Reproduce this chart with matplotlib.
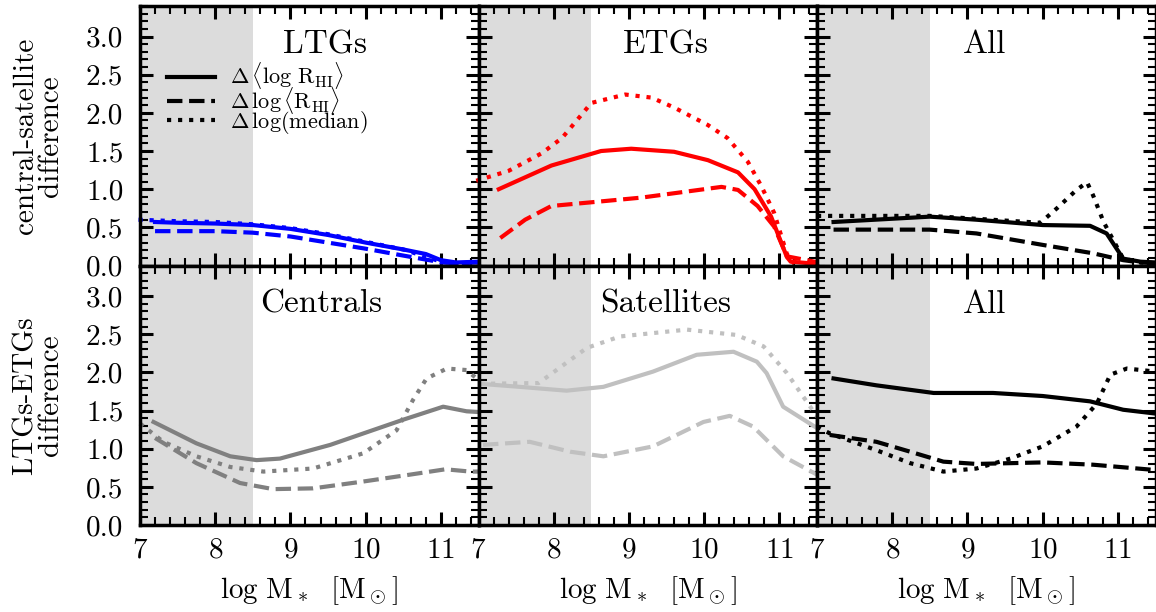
import numpy as np
import matplotlib
matplotlib.use("Agg")
import matplotlib.pyplot as plt
from matplotlib.ticker import MultipleLocator, FormatStrFormatter
from matplotlib.lines import Line2D

plt.rcParams["font.family"] = "serif"
plt.rcParams["font.serif"] = ["cmr10", "DejaVu Serif"]
plt.rcParams["mathtext.fontset"] = "cm"
plt.rcParams["axes.formatter.use_mathtext"] = True

# ---- top row: central - satellite difference ----
ltg_x_solid = [7.2, 7.5, 8.0, 8.5, 9.0, 9.5, 10.0, 10.5, 10.8, 11.0, 11.2, 11.52]
ltg_solid = [0.57, 0.56, 0.55, 0.53, 0.48, 0.40, 0.30, 0.21, 0.15, 0.07, 0.04, 0.05]
ltg_x_dash = [7.2, 7.5, 8.0, 8.5, 9.0, 9.5, 10.0, 10.5, 10.9, 11.0, 11.2, 11.52]
ltg_dash = [0.45, 0.45, 0.45, 0.43, 0.38, 0.30, 0.22, 0.13, 0.06, 0.04, 0.03, 0.04]
ltg_x_dot = [6.98, 7.5, 8.0, 8.5, 9.0, 9.5, 10.0, 10.5, 11.0, 11.2, 11.52]
ltg_dot = [0.60, 0.58, 0.57, 0.54, 0.49, 0.41, 0.31, 0.21, 0.05, 0.03, 0.04]

etg_x_solid = [7.27, 7.97, 8.63, 9.03, 9.6, 10.05, 10.45, 10.67, 10.89, 11.1, 11.15, 11.52]
etg_solid = [1.00, 1.31, 1.50, 1.53, 1.49, 1.38, 1.22, 1.00, 0.64, 0.11, 0.05, 0.02]
etg_x_dash = [7.29, 7.62, 7.97, 8.63, 9.17, 9.7, 10.23, 10.45, 10.71, 10.93, 11.1, 11.52]
etg_dash = [0.36, 0.60, 0.78, 0.84, 0.89, 0.96, 1.03, 0.99, 0.78, 0.51, 0.12, 0.04]
etg_x_dot = [6.97, 7.4, 7.84, 8.11, 8.28, 8.5, 8.95, 9.3, 9.6, 10.05, 10.31, 10.58, 10.76, 10.93, 11.1, 11.2]
etg_dot = [1.11, 1.24, 1.47, 1.67, 1.87, 2.13, 2.24, 2.20, 2.07, 1.84, 1.67, 1.36, 1.04, 0.69, 0.15, 0.02]

all_top_x_solid = [7.22, 8.5, 9.12, 10.0, 10.63, 10.85, 11.07, 11.3, 11.5]
all_top_solid = [0.57, 0.64, 0.60, 0.53, 0.52, 0.42, 0.09, 0.05, 0.04]
all_top_x_dash = [7.22, 8.5, 9.12, 10.0, 10.67, 11.07, 11.3, 11.5]
all_top_dash = [0.47, 0.47, 0.42, 0.27, 0.16, 0.07, 0.04, 0.03]
all_top_x_dot = [7.0, 8.5, 9.97, 10.19, 10.45, 10.59, 10.67, 10.81, 11.07, 11.3, 11.5]
all_top_dot = [0.65, 0.65, 0.56, 0.75, 0.99, 1.09, 0.92, 0.57, 0.09, 0.04, 0.03]

# ---- bottom row: LTGs - ETGs difference ----
cen_x_solid = [7.18, 7.75, 8.2, 8.55, 8.86, 9.53, 9.97, 10.5, 11.03, 11.34, 11.5]
cen_solid = [1.35, 1.07, 0.90, 0.85, 0.87, 1.05, 1.20, 1.38, 1.55, 1.49, 1.48]
cen_x_dash = [7.2, 7.75, 8.33, 8.77, 9.3, 9.97, 10.59, 11.06, 11.39, 11.5]
cen_dash = [1.14, 0.81, 0.55, 0.47, 0.48, 0.57, 0.66, 0.73, 0.70, 0.70]
cen_x_dot = [7.0, 7.31, 7.75, 8.2, 8.64, 9.3, 9.97, 10.41, 10.63, 10.81, 11.08, 11.34, 11.55]
cen_dot = [1.33, 1.09, 0.90, 0.76, 0.70, 0.74, 0.94, 1.24, 1.64, 1.92, 2.05, 2.03, 1.86]

sat_x_solid = [7.02, 7.55, 8.17, 8.66, 9.32, 9.9, 10.39, 10.7, 10.83, 11.05, 11.5]
sat_solid = [1.85, 1.81, 1.76, 1.81, 2.01, 2.23, 2.27, 2.14, 1.99, 1.55, 1.27]
sat_x_dash = [7.06, 7.68, 8.22, 8.66, 9.32, 9.99, 10.34, 10.65, 11.05, 11.5]
sat_dash = [1.05, 1.09, 0.96, 0.90, 1.03, 1.35, 1.43, 1.29, 0.90, 0.66]
sat_x_dot = [7.02, 7.8, 8.44, 8.88, 9.77, 10.43, 10.79, 11.1, 11.41, 11.5]
sat_dot = [1.85, 1.86, 2.32, 2.47, 2.56, 2.49, 2.34, 1.99, 1.55, 1.42]

all_bot_x_solid = [7.22, 7.79, 8.55, 9.34, 10.0, 10.63, 11.07, 11.5]
all_bot_solid = [1.92, 1.83, 1.73, 1.73, 1.69, 1.62, 1.51, 1.46]
all_bot_x_dash = [7.17, 7.79, 8.24, 8.68, 9.12, 10.0, 10.67, 11.5]
all_bot_dash = [1.18, 1.09, 0.96, 0.83, 0.80, 0.82, 0.79, 0.72]
all_bot_x_dot = [7.0, 7.17, 7.79, 8.24, 8.68, 9.12, 9.57, 10.0, 10.45, 10.72, 10.9, 11.12, 11.5]
all_bot_dot = [1.29, 1.20, 0.98, 0.81, 0.70, 0.74, 0.87, 1.03, 1.29, 1.59, 1.97, 2.05, 2.01]

panel_titles = ["LTGs", "ETGs", "All", "Centrals", "Satellites", "All"]
title_x = [0.423, 0.428, 0.432, 0.355, 0.359, 0.432]
row_labels = ["central-satellite\ndifference", "LTGs-ETGs\ndifference"]
legend_labels = [r"$\Delta\,\langle\log\,\mathrm{R}_{\mathrm{HI}}\rangle$",
                 r"$\Delta\,\log\langle\mathrm{R}_{\mathrm{HI}}\rangle$",
                 r"$\Delta\,\log(\mathrm{median})$"]

panels = [
    ("#0000ff", (ltg_x_solid, ltg_solid), (ltg_x_dash, ltg_dash), (ltg_x_dot, ltg_dot)),
    ("#ff0000", (etg_x_solid, etg_solid), (etg_x_dash, etg_dash), (etg_x_dot, etg_dot)),
    ("#000000", (all_top_x_solid, all_top_solid), (all_top_x_dash, all_top_dash), (all_top_x_dot, all_top_dot)),
    ("#808080", (cen_x_solid, cen_solid), (cen_x_dash, cen_dash), (cen_x_dot, cen_dot)),
    ("#c0c0c0", (sat_x_solid, sat_solid), (sat_x_dash, sat_dash), (sat_x_dot, sat_dot)),
    ("#000000", (all_bot_x_solid, all_bot_solid), (all_bot_x_dash, all_bot_dash), (all_bot_x_dot, all_bot_dot)),
]

W, H = 1156, 612
fig = plt.figure(figsize=(W / 100, H / 100), dpi=100)

left0, pw = 140, 338.5
top0, ph = 6, 259.5

axes = []
for i in range(6):
    r, c = divmod(i, 3)
    x0 = (left0 + c * pw) / W
    y0 = 1 - (top0 + (r + 1) * ph) / H
    ax = fig.add_axes([x0, y0, pw / W, ph / H])
    axes.append(ax)

for i, (ax, (col, s, d, o)) in enumerate(zip(axes, panels)):
    r, c = divmod(i, 3)
    ax.axvspan(6.9, 8.5, color="#dcdcdc", lw=0, zorder=0)
    ax.plot(s[0], s[1], color=col, lw=3, ls="-", clip_on=False, zorder=3)
    ax.plot(d[0], d[1], color=col, lw=3, ls="--", clip_on=False, zorder=3)
    ax.plot(o[0], o[1], color=col, lw=3, ls=":", clip_on=False, zorder=3)
    ax.set_xlim(7, 11.5)
    ax.set_ylim(0, 3.4)
    ax.xaxis.set_major_locator(MultipleLocator(1))
    ax.xaxis.set_minor_locator(MultipleLocator(0.2))
    ax.yaxis.set_major_locator(MultipleLocator(0.5))
    ax.yaxis.set_minor_locator(MultipleLocator(0.1))
    ax.yaxis.set_major_formatter(FormatStrFormatter("%.1f"))
    ax.tick_params(which="both", direction="in", top=True, right=True, labelsize=21)
    ax.tick_params(which="major", length=9.5, width=2.2)
    ax.tick_params(which="minor", length=5.8, width=1.5)
    ax.tick_params(axis="y", pad=12)
    for sp in ax.spines.values():
        sp.set_linewidth(2.5)
        sp.set_zorder(5)
    if c != 0:
        ax.tick_params(labelleft=False)
    else:
        ax.set_ylabel(row_labels[r], fontsize=21, linespacing=0.95)
        ax.yaxis.set_label_coords(-0.225, 0.5)
    if r == 0:
        ax.tick_params(labelbottom=False)
    else:
        ax.set_xlabel(r"$\log\,\mathrm{M}_*\ \ [\mathrm{M}_\odot]$", fontsize=21)
        ax.xaxis.set_label_coords(0.5, -0.19)
        ax.tick_params(axis="x", pad=9)
    ax.text(title_x[i], 0.85, panel_titles[i], transform=ax.transAxes,
            fontsize=24, ha="left", va="center", zorder=6)

handles = [Line2D([], [], color="k", lw=3, ls=ls) for ls in ["-", "--", ":"]]
axes[0].legend(handles, legend_labels, loc="upper left", bbox_to_anchor=(0.08, 0.79),
               frameon=False, fontsize=16, handlelength=2.15, handletextpad=0.7,
               labelspacing=-0.3, borderaxespad=0, borderpad=0)

fig.savefig("out.png", dpi=100)
